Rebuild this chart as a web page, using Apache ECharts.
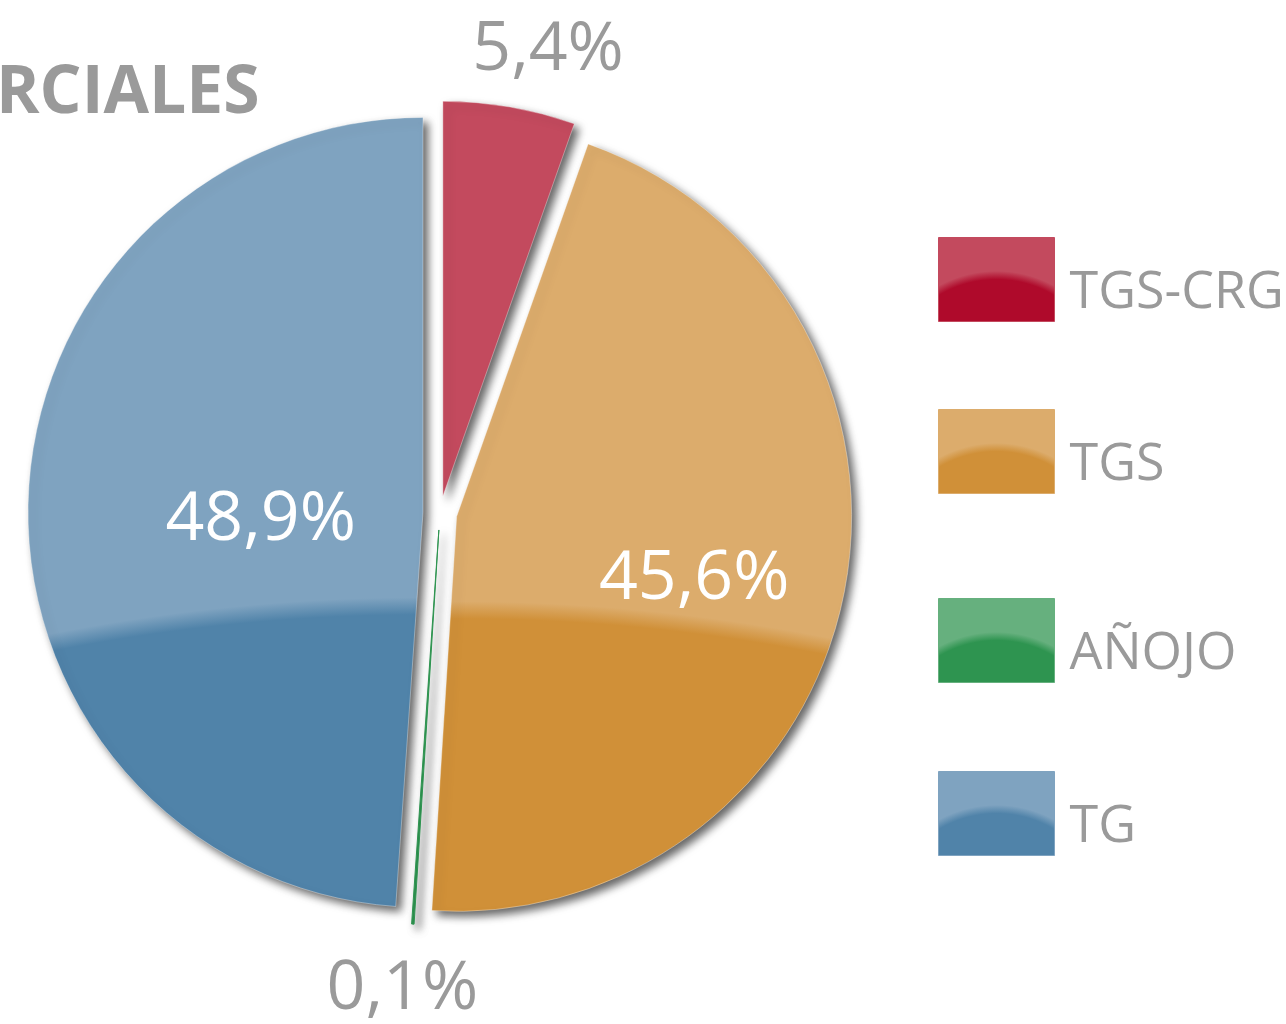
<!DOCTYPE html>
<html>
<head>
<meta charset="utf-8">
<script src="https://cdn.jsdelivr.net/npm/echarts@6/dist/echarts.min.js"></script>
<style>
  html, body { margin: 0; padding: 0; background: #fff; }
  #main { width: 1286px; height: 1024px; }
</style>
</head>
<body>
<div id="main"></div>
<script>
var categories = ["TGS-CRG", "TGS", "AÑOJO", "TG"];
var values = [5.4, 45.6, 0.1, 48.9];
var lightColors = ["#c34a5e", "#dcac6c", "#66b07e", "#7fa3c0"];
var darkColors = ["#af0a2b", "#d09038", "#2e9450", "#5083a9"];
var legendTops = [237, 409, 598, 771];
// nudges for the percent labels, relative to where the pie puts them
var labelShift = [[-44, -46], [41, 23], [71, 56], [38, 15]];

function sliceFill(i) {
  // glossy dome: dark lower part, light upper part, shared over the whole pie
  return {
    type: "radial", x: 440, y: 2519, r: 1921, global: true,
    colorStops: [
      { offset: 0, color: darkColors[i] },
      { offset: 0.991, color: darkColors[i] },
      { offset: 1, color: lightColors[i] }
    ]
  };
}

function boxFill(i) {
  return {
    type: "radial", x: 0.5, y: 1.82, r: 1.42,
    colorStops: [
      { offset: 0, color: darkColors[i] },
      { offset: 0.93, color: darkColors[i] },
      { offset: 1, color: lightColors[i] }
    ]
  };
}

function fmt(v) {
  return v.toFixed(1).replace(".", ",") + "%";
}

var chartDom = document.getElementById("main");
var myChart = echarts.init(chartDom);
var option;

var legends = categories.map(function (name, i) {
  return {
    orient: "vertical",
    left: 938,
    top: legendTops[i],
    padding: 0,
    icon: "rect",
    itemWidth: 116,
    itemHeight: 84,
    selectedMode: false,
    data: [{
      name: name,
      itemStyle: {
        color: boxFill(i),
        borderColor: lightColors[i],
        borderWidth: 1,
        shadowBlur: 0,
        shadowOffsetX: 0,
        shadowOffsetY: 0
      }
    }],
    formatter: function (n) { return "{t|" + n + "}"; },
    textStyle: {
      rich: {
        t: {
          fontFamily: "Open Sans",
          fontSize: 52,
          color: "#9a9a9a",
          padding: [28, 0, 0, 10]
        }
      }
    }
  };
});

var pieData = categories.map(function (name, i) {
  var inside = values[i] > 10;
  return {
    name: name,
    value: values[i],
    selected: true,
    itemStyle: {
      color: sliceFill(i),
      borderColor: i === 2 ? darkColors[i] : "rgba(255,255,255,0.35)"
    },
    label: {
      position: inside ? "inside" : "outside",
      color: inside ? "#ffffff" : "#9a9a9a"
    },
    labelLine: { show: false }
  };
});

option = {
  backgroundColor: "#ffffff",
  animation: false,
  title: {
    text: "RCIALES",
    left: -9,
    top: 56,
    textStyle: {
      fontFamily: "Open Sans",
      fontWeight: "bold",
      fontSize: 66,
      color: "#9a9a9a"
    }
  },
  legend: legends,
  series: [
    {
      type: "pie",
      center: [440, 513],
      radius: 395,
      startAngle: 90,
      clockwise: true,
      selectedMode: "multiple",
      selectedOffset: 17,
      avoidLabelOverlap: false,
      itemStyle: {
        borderWidth: 1,
        shadowBlur: 8,
        shadowOffsetX: 5,
        shadowOffsetY: 5,
        shadowColor: "rgba(0,0,0,0.6)"
      },
      label: {
        fontFamily: "Open Sans",
        fontSize: 68,
        formatter: function (p) { return fmt(p.value); }
      },
      labelLine: { show: false, length: 10, length2: 0 },
      labelLayout: function (p) {
        var s = labelShift[p.dataIndex];
        return { dx: s[0], dy: s[1] };
      },
      emphasis: { disabled: true },
      data: pieData
    }
  ]
};

option && myChart.setOption(option);
</script>
</body>
</html>
